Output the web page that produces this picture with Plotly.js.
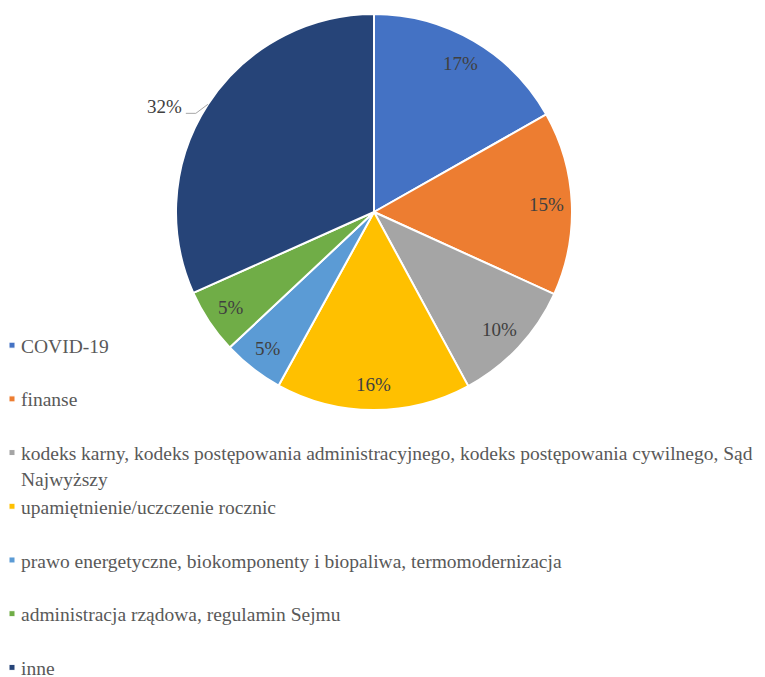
<!DOCTYPE html>
<html>
<head>
<meta charset="utf-8">
<script src="https://cdn.plot.ly/plotly-3.0.1.min.js"></script>
<style>html,body{margin:0;padding:0;background:#fff;}#chart{width:765px;height:677px;}</style>
</head>
<body>
<div id="chart"></div>
<script>
// Data
const categories = [
  "COVID-19",
  "finanse",
  "kodeks karny, kodeks postępowania administracyjnego, kodeks postępowania cywilnego, Sąd Najwyższy",
  "upamiętnienie/uczczenie rocznic",
  "prawo energetyczne, biokomponenty i biopaliwa, termomodernizacja",
  "administracja rządowa, regulamin Sejmu",
  "inne"
];
const shares = [16.8, 15.0, 10.3, 15.9, 5.0, 5.3, 31.7];
const colors = ["#4472C4", "#ED7D31", "#A5A5A5", "#FFC000", "#5B9BD5", "#70AD47", "#264478"];
const labelOutside = [false, false, false, false, false, false, true];

const W = 765, H = 677;
const FONT = "Liberation Serif, Times New Roman, serif";
// pie box in pixels
const pieBox = {x0: 176, x1: 572, y0: 14, y1: 410};
const cx = (pieBox.x0 + pieBox.x1) / 2, cy = (pieBox.y0 + pieBox.y1) / 2;
const R = (pieBox.x1 - pieBox.x0) / 2;

// legend display labels (wrap the long one before "Najwyższy", pad others to two lines except the last)
function legendLabel(s, i) {
  const wrapAt = s.indexOf(" Najwyższy");
  if (wrapAt > 0) return s.slice(0, wrapAt) + "<br>" + s.slice(wrapAt + 1);
  if (i === categories.length - 1) return s;
  return s + "<br> ";
}
const labels = categories.map(legendLabel);

const trace = {
  type: "pie",
  labels: labels,
  values: shares,
  sort: false,
  direction: "clockwise",
  rotation: 0,
  marker: {colors: colors, line: {color: "#ffffff", width: 2}},
  textinfo: "none",
  hoverinfo: "label+percent",
  domain: {x: [pieBox.x0 / W, pieBox.x1 / W], y: [1 - pieBox.y1 / H, 1 - pieBox.y0 / H]}
};

// data labels at each slice's mid angle (computed from the values)
const total = shares.reduce((a, b) => a + b, 0);
const annotations = [];
const shapes = [];
let cum = 0;
shares.forEach(function (v, i) {
  const mid = (cum + v / 2) / total * 2 * Math.PI;
  cum += v;
  const pct = Math.round(v / total * 100) + "%";
  const sx = Math.sin(mid), sy = -Math.cos(mid);
  if (!labelOutside[i]) {
    const px = cx + 0.87 * R * sx, py = cy + 0.87 * R * sy;
    annotations.push({
      x: px / W, y: 1 - py / H, xref: "paper", yref: "paper",
      text: pct, showarrow: false, xanchor: "center", yanchor: "middle",
      font: {family: FONT, size: 19, color: "#404040"}
    });
  } else {
    const ex = cx + R * sx, ey = cy + R * sy;
    const elbowX = ex - 12, elbowY = ey + 9, endX = ex - 22;
    shapes.push({
      type: "path", xref: "paper", yref: "paper",
      path: "M" + (ex / W) + "," + (1 - ey / H) + " L" + (elbowX / W) + "," + (1 - elbowY / H) +
            " L" + (endX / W) + "," + (1 - elbowY / H),
      line: {color: "#A6A6A6", width: 1}
    });
    annotations.push({
      x: (endX - 2) / W, y: 1 - (ey + 2) / H, xref: "paper", yref: "paper",
      text: pct, showarrow: false, xanchor: "right", yanchor: "middle",
      font: {family: FONT, size: 19, color: "#404040"}
    });
  }
});

const layout = {
  width: W, height: H,
  margin: {l: 0, r: 0, t: 0, b: 0, autoexpand: false},
  paper_bgcolor: "#ffffff",
  showlegend: true,
  annotations: annotations,
  shapes: shapes,
  legend: {
    x: -19 / W, xanchor: "left",
    y: 1 - 326 / H, yanchor: "top",
    valign: "top",
    font: {family: FONT, size: 19.5, color: "#595959"},
    bgcolor: "rgba(0,0,0,0)",
    traceorder: "normal"
  }
};

Plotly.newPlot("chart", [trace], layout, {displayModeBar: false, staticPlot: true}).then(function () {
  // smaller square legend keys, closer to the text
  document.querySelectorAll(".legend .legendpoints path").forEach(function (p) {
    p.setAttribute("transform", "translate(31,0) scale(0.5)");
  });
});
</script>
</body>
</html>
